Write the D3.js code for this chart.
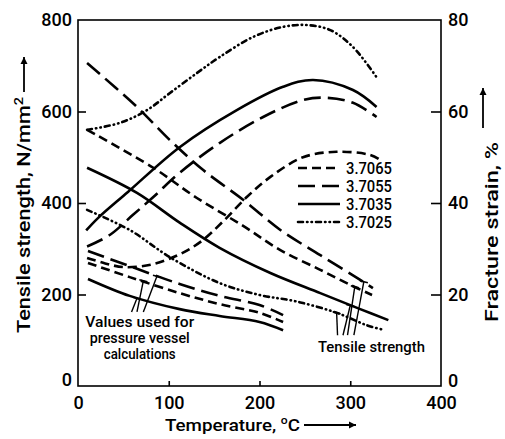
<!DOCTYPE html>
<html><head><meta charset="utf-8">
<script src="https://cdn.jsdelivr.net/npm/d3@7"></script>
<style>
html,body{margin:0;padding:0;background:#fff;}
svg text{font-family:Roboto,"DejaVu Sans",sans-serif;font-weight:500;fill:#000;}
</style></head>
<body><svg id="c" width="505" height="439"></svg>
<script>
// ---- data ----
const xTicks = [0,100,200,300,400];
const yLeftTicks = [0,200,400,600,800];
const yRightTicks = [0,20,40,60,80];
const grades = ["3.7065","3.7055","3.7035","3.7025"];

// Fracture strain (%), right axis
const fsT_7025 = [10,46,76,101,131,156,193,226,252,278,303,329];
const fs_7025  = [56,57.5,60.3,64,68.4,71.9,76.3,78.5,78.9,77.8,74.1,67.5];
const fsT_7035 = [9,22,55,112,175,226,259,303,329];
const fs_7035  = [34,36.7,42.4,52.2,60.3,65.4,66.9,64.7,61];
const fsT_7055 = [10,35,60,83,112,156,204,248,274,303,329];
const fs_7055  = [30.5,33,37.3,41.3,46.6,53.1,58.8,62.5,63,61.9,58.8];
const fsT_7065 = [10,30,50,80,110,135,160,186,212,248,285,322,333];
const fs_7065  = [28,26.8,26,26.5,28.6,31.5,36,41.3,45.7,50,51.2,50.5,49.4];

// Tensile strength (N/mm2), left axis
const tsT_7055 = [10,65,101,138,182,223,267,311,325];
const ts_7055  = [706,610,538,472,407,341,286,232,214];
const tsT_7065 = [10,83,131,182,223,267,300,324];
const ts_7065  = [560,477,411,350,297,254,221,199];
const tsT_7035 = [10,65,112,156,212,267,311,342];
const ts_7035  = [477,422,357,302,247,203,168,144];
const tsT_7025 = [10,57,101,156,200,240,285,318,338];
const ts_7025  = [385,341,282,225,199,185,160,133,122];

// Values used for pressure vessel calculations
const pvT = [11,57,112,156,200,226];
const pv_7055 = [295,262,223,197,177,155];
const pv_7065 = [269,238,203,179,160,140];
const pv_7035 = [234,197,168,153,140,122];

// ---- chart ----
const svg = d3.select("#c");
const W=505,H=439;
const m={l:78,r:64,t:20,b:53};
const x = d3.scaleLinear().domain([0,400]).range([m.l, W-m.r]);
const yL = d3.scaleLinear().domain([0,800]).range([H-m.b, m.t]);
const yR = d3.scaleLinear().domain([0,80]).range([H-m.b, m.t]);

const styles = {
  "3.7065": "9,5",
  "3.7055": "17,7",
  "3.7035": null,
  "3.7025": "5,4,0.5,4,0.5,4"
};
const line = (ys)=>d3.line().x(d=>x(d[0])).y(d=>ys(d[1])).curve(d3.curveCatmullRom.alpha(0.5));
const zip=(a,b)=>a.map((v,i)=>[v,b[i]]);

function draw(T,V,ys,grade){
  svg.append("path").datum(zip(T,V)).attr("d",line(ys))
    .attr("fill","none").attr("stroke","#000").attr("stroke-width",2.6)
    .attr("stroke-linecap", grade==="3.7025"?"round":"butt")
    .attr("stroke-dasharray", styles[grade]);
}
draw(fsT_7025,fs_7025,yR,"3.7025");
draw(fsT_7035,fs_7035,yR,"3.7035");
draw(fsT_7055,fs_7055,yR,"3.7055");
draw(fsT_7065,fs_7065,yR,"3.7065");
draw(tsT_7055,ts_7055,yL,"3.7055");
draw(tsT_7065,ts_7065,yL,"3.7065");
draw(tsT_7035,ts_7035,yL,"3.7035");
draw(tsT_7025,ts_7025,yL,"3.7025");
draw(pvT,pv_7055,yL,"3.7055");
draw(pvT,pv_7065,yL,"3.7065");
draw(pvT,pv_7035,yL,"3.7035");

// frame
svg.append("rect").attr("x",x(0)).attr("y",yL(800)).attr("width",x(400)-x(0)).attr("height",yL(0)-yL(800))
  .attr("fill","none").attr("stroke","#000").attr("stroke-width",1.6);

// axes
const gL = svg.append("g").attr("transform",`translate(${x(0)},0)`)
  .call(d3.axisLeft(yL).tickValues(yLeftTicks).tickSize(-8).tickPadding(6));
const gR = svg.append("g").attr("transform",`translate(${x(400)},0)`)
  .call(d3.axisRight(yR).tickValues(yRightTicks).tickSize(-10).tickPadding(7));
const gB = svg.append("g").attr("transform",`translate(0,${yL(0)})`)
  .call(d3.axisBottom(x).tickValues(xTicks).tickSize(-5).tickPadding(10));
[gL,gR,gB].forEach(g=>{
  g.select(".domain").remove();
  g.selectAll("line").attr("stroke","#000").attr("stroke-width",1.6);
  g.selectAll("text").style("font-size","18px").attr("font-family",null).attr("fill","#000");
});
gL.selectAll(".tick").filter(d=>d===800||d===0).select("line").remove();
gR.selectAll(".tick").filter(d=>d===80||d===0).select("line").remove();
gB.selectAll(".tick").filter(d=>d===0||d===400).select("line").remove();
gL.selectAll(".tick").filter(d=>d===0).select("text").attr("y",-6);
gR.selectAll(".tick").filter(d=>d===0).select("text").attr("y",-5);

function arrow(x1,y1,x2,y2){
  svg.append("line").attr("x1",x1).attr("y1",y1).attr("x2",x2).attr("y2",y2)
    .attr("stroke","#000").attr("stroke-width",1.8);
  const a=Math.atan2(y2-y1,x2-x1), L=7, w=3.5;
  const p=[[x2,y2],[x2-L*Math.cos(a)+w*Math.sin(a), y2-L*Math.sin(a)-w*Math.cos(a)],
           [x2-L*Math.cos(a)-w*Math.sin(a), y2-L*Math.sin(a)+w*Math.cos(a)]];
  svg.append("path").attr("d","M"+p.join("L")+"Z").attr("fill","#000");
}

// axis titles
const lab = svg.append("text").attr("transform",`translate(30,333) rotate(-90)`)
  .style("font-size","18px").attr("textLength",236).attr("lengthAdjust","spacingAndGlyphs");
lab.append("tspan").text("Tensile strength, N/mm");
lab.append("tspan").text("2").attr("dy",-7).style("font-size","12px");
arrow(24,92,24,57);

const bt = svg.append("text").attr("x",165).attr("y",431)
  .style("font-size","17px").attr("textLength",135).attr("lengthAdjust","spacingAndGlyphs");
bt.append("tspan").text("Temperature, ");
bt.append("tspan").text("o").attr("dy",-7).style("font-size","11px");
bt.append("tspan").text("C").attr("dy",7);
arrow(304,425,356,425);

svg.append("text").attr("transform",`translate(498,322) rotate(-90)`)
  .style("font-size","18px").attr("textLength",180).attr("lengthAdjust","spacingAndGlyphs")
  .text("Fracture strain, %");
arrow(483,128,483,88);

// legend
const legY = [168,186,204,222];
grades.forEach((g,i)=>{
  svg.append("line").attr("x1",298).attr("x2",340).attr("y1",legY[i]).attr("y2",legY[i])
    .attr("stroke","#000").attr("stroke-width",2.6).attr("stroke-dasharray",styles[g])
    .attr("stroke-linecap", g==="3.7025"?"round":"butt");
  svg.append("text").attr("x",346).attr("y",legY[i]).attr("dy","0.36em")
    .style("font-size","16px").attr("textLength",46).attr("lengthAdjust","spacingAndGlyphs").text(g);
});

// annotations
function leader(t0,v0,t1,v1){
  const x1=x(t0),y1=yL(v0),x2=x(t1),y2=yL(v1);
  svg.append("line").attr("x1",x1).attr("y1",y1).attr("x2",x2).attr("y2",y2)
    .attr("stroke","#000").attr("stroke-width",1.4);
  svg.append("line").attr("x1",x2-4).attr("y1",y2-1).attr("x2",x2+4).attr("y2",y2+1)
    .attr("stroke","#000").attr("stroke-width",1.6);
}
leader(59,162,65,192);
leader(65,162,72,230);
leader(72,162,87,240);
leader(286,111,285,160);
leader(292,111,300,176);
leader(297,111,305,217);
leader(304,111,315,228);

const annLines = [["Values used for",327,109],["pressure vessel",343,100],["calculations",359,72]];
annLines.forEach(([t,yy,w])=>{
  svg.append("text").attr("x",x(68)-w/2).attr("y",yy).style("font-size","14px")
    .attr("textLength",w).attr("lengthAdjust","spacingAndGlyphs").text(t);
});
svg.append("text").attr("x",318).attr("y",352)
  .style("font-size","14px").attr("textLength",107).attr("lengthAdjust","spacingAndGlyphs").text("Tensile strength");
</script></body></html>
